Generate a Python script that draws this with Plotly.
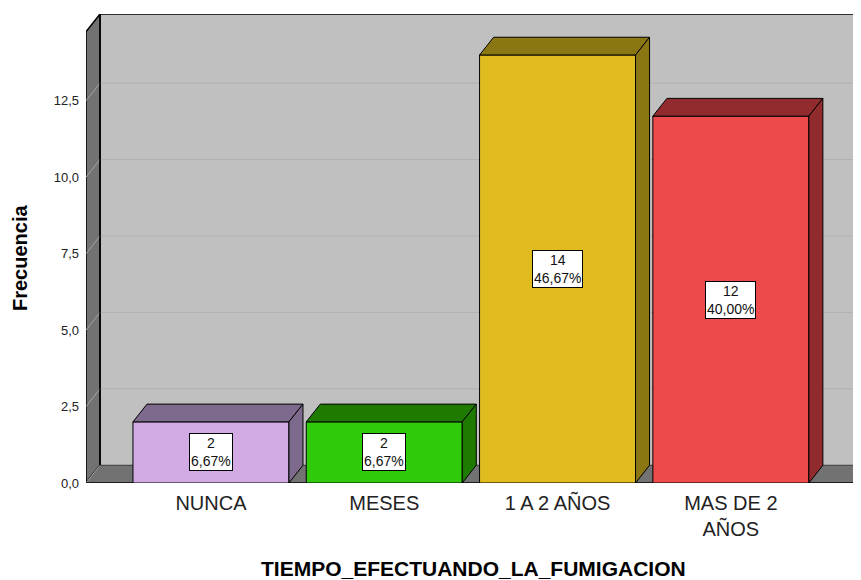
import plotly.graph_objects as go

# ---- data ----
categories = ["NUNCA", "MESES", "1 A 2 AÑOS", "MAS DE 2<br>AÑOS"]
counts = [2, 2, 14, 12]
front_colors = ["#d2aae4", "#2fcb0b", "#e0bb1f", "#ec4a4b"]
dark_colors = ["#7e6a8c", "#1f7a02", "#8b7614", "#922b2e"]
y_ticks = [0, 2.5, 5.0, 7.5, 10.0, 12.5]
y_title = "Frecuencia"
x_title = "TIEMPO_EFECTUANDO_LA_FUMIGACION"

# ---- geometry (axis units) ----
total = sum(counts)
xs = list(range(len(categories)))
bar_w = 0.9
half = bar_w / 2
DX = 0.081      # depth offset in category units
DY = 0.58       # depth offset in value units
X0, X1 = -0.721, 3.751
Y0, Y1 = 0.0, 15.34

fig = go.Figure()

shapes = []
# back wall
shapes.append(dict(type="rect", xref="x", yref="y", x0=X0 + DX, x1=X1, y0=DY, y1=Y1,
                   fillcolor="#c0c0c0", line=dict(width=0), layer="below"))
# left side wall
shapes.append(dict(type="path", xref="x", yref="y",
                   path=f"M {X0},{Y0} L {X0 + DX},{DY} L {X0 + DX},{Y1} L {X0},{Y1 - DY} Z",
                   fillcolor="#727272", line=dict(color="black", width=1.5), layer="below"))
# floor
shapes.append(dict(type="path", xref="x", yref="y",
                   path=f"M {X0},{Y0} L {X0 + DX},{DY} L {X1},{DY} L {X1},{Y0} Z",
                   fillcolor="#727272", line=dict(width=0), layer="below"))
# gridlines on back wall + side wall diagonals
for t in y_ticks:
    if t > 0:
        shapes.append(dict(type="line", xref="x", yref="y", x0=X0 + DX, x1=X1, y0=t + DY, y1=t + DY,
                           line=dict(color="#b0b0b0", width=1), layer="below"))
    shapes.append(dict(type="line", xref="x", yref="y", x0=X0, x1=X0 + DX, y0=t, y1=t + DY,
                       line=dict(color="#a4a4a4", width=1), layer="below"))
# outlines
shapes.append(dict(type="line", xref="x", yref="y", x0=X0 + DX, x1=X1, y0=Y1, y1=Y1,
                   line=dict(color="black", width=1.5), layer="below"))
shapes.append(dict(type="line", xref="x", yref="y", x0=X0 + DX, x1=X0 + DX, y0=DY, y1=Y1,
                   line=dict(color="black", width=1.5), layer="below"))
shapes.append(dict(type="line", xref="x", yref="y", x0=X0 + DX, x1=X1, y0=DY, y1=DY,
                   line=dict(color="#3a3a3a", width=1), layer="below"))
shapes.append(dict(type="line", xref="x", yref="y", x0=X0, x1=X1, y0=Y0, y1=Y0,
                   line=dict(color="black", width=1.5), layer="below"))

# front faces
fig.add_trace(go.Bar(x=xs, y=counts, width=bar_w, marker=dict(color=front_colors,
                     line=dict(color="black", width=1)), hoverinfo="skip", showlegend=False))

# top and side faces
for x, v, dc in zip(xs, counts, dark_colors):
    l, r = x - half, x + half
    fig.add_trace(go.Scatter(x=[l, l + DX, r + DX, r, l], y=[v, v + DY, v + DY, v, v],
                             fill="toself", fillcolor=dc, mode="lines",
                             line=dict(color="black", width=1), hoverinfo="skip", showlegend=False))
    fig.add_trace(go.Scatter(x=[r, r + DX, r + DX, r, r], y=[0, DY, v + DY, v, 0],
                             fill="toself", fillcolor=dc, mode="lines",
                             line=dict(color="black", width=1), hoverinfo="skip", showlegend=False))

annotations = []
for x, v in zip(xs, counts):
    pct = f"{v / total * 100:.2f}".replace(".", ",")
    annotations.append(dict(x=x, y=v / 2, xref="x", yref="y", text=f"{v}<br>{pct}%",
                            showarrow=False, bgcolor="white", bordercolor="black", borderwidth=1,
                            borderpad=1, font=dict(family="Liberation Sans, Arial", size=14, color="#111")))

plot_h = 572 - 6 - 97
annotations.append(dict(text=f"<b>{x_title}</b>", xref="paper", yref="paper", x=0.5,
                        y=-(568 - 483) / plot_h, xanchor="center", yanchor="middle", showarrow=False,
                        font=dict(family="Liberation Sans, Arial", size=21, color="black")))
annotations.append(dict(text=f"<b>{y_title}</b>", xref="paper", yref="paper", x=(20 - 86) / 775,
                        y=(483 - 258) / plot_h, xanchor="center", yanchor="middle", showarrow=False,
                        textangle=-90,
                        font=dict(family="Liberation Sans, Arial", size=20, color="black")))

fig.update_layout(
    width=853, height=572,
    margin=dict(l=78, r=0, t=6, b=97),
    paper_bgcolor="white", plot_bgcolor="white",
    separators=",.",
    shapes=shapes, annotations=annotations,
    xaxis=dict(range=[X0, X1], tickvals=xs, ticktext=categories, showgrid=False, zeroline=False,
               showline=False, ticks="", ticklabelstandoff=6,
               tickfont=dict(family="Liberation Sans, Arial", size=20, color="#222")),
    yaxis=dict(range=[Y0, Y1], tickvals=y_ticks, tickformat=".1f", showgrid=False, zeroline=False,
               showline=False, ticks="", ticklabelstandoff=6,
               tickfont=dict(family="Liberation Sans, Arial", size=13, color="#222")),
)

fig.write_html("out.html")
